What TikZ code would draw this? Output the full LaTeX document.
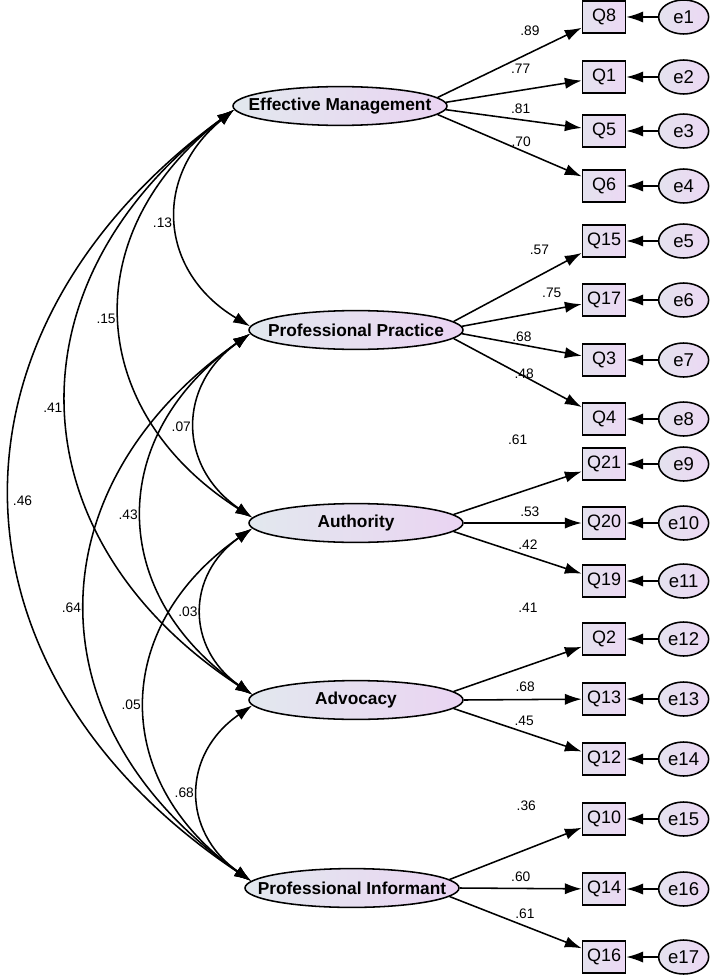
\documentclass[tikz,border=0pt]{standalone}
\usepackage{fontspec}
\setmainfont{Liberation Sans}
\usetikzlibrary{arrows.meta,shapes.geometric,positioning}
\definecolor{latleft}{RGB}{226,232,238}
\definecolor{latright}{RGB}{234,212,242}
\definecolor{boxleft}{RGB}{228,226,238}
\definecolor{boxright}{RGB}{236,216,244}

\begin{document}
\begin{tikzpicture}[>={Latex[length=12pt,width=8pt]}, line width=1.1pt,
  latent/.style={ellipse, draw, minimum width=5.35cm, minimum height=0.97cm, inner xsep=-20pt, inner ysep=0pt,
    left color=latleft, right color=latright, font=\bfseries\fontsize{12.3}{14}\selectfont},
  obsbox/.style={rectangle, draw, minimum width=1.075cm, minimum height=0.8cm, inner sep=0pt,
    left color=boxleft, right color=boxright, font=\fontsize{12.8}{14}\selectfont},
  errterm/.style={ellipse, draw, minimum width=1.25cm, minimum height=0.85cm, inner sep=0pt,
    left color=boxleft, right color=boxright, font=\fontsize{13.2}{14}\selectfont},
  coef/.style={font=\fontsize{9.8}{11}\selectfont, inner sep=1pt},
  covarc/.style={bend right=55, looseness=1.25}]
\useasboundingbox (0,0) rectangle (17.725,-24.425);

% latent factors
\node[latent] (em) at (8.50,-2.65)   {Effective Management};
\node[latent] (pp) at (8.90,-8.25)   {Professional Practice};
\node[latent] (au) at (8.90,-13.075) {Authority};
\node[latent] (ad) at (8.90,-17.50)  {Advocacy};
\node[latent] (pi) at (8.80,-22.20)  {Professional Informant};

% items
\node[obsbox] (q8)  at (15.1,-0.425)  {Q8};
\node[obsbox] (q1)  at (15.1,-1.925)  {Q1};
\node[obsbox] (q5)  at (15.1,-3.275)  {Q5};
\node[obsbox] (q6)  at (15.1,-4.65)   {Q6};
\node[obsbox] (q15) at (15.1,-6.025)  {Q15};
\node[obsbox] (q17) at (15.1,-7.50)   {Q17};
\node[obsbox] (q3)  at (15.1,-9.00)   {Q3};
\node[obsbox] (q4)  at (15.1,-10.475) {Q4};
\node[obsbox] (q21) at (15.1,-11.60)  {Q21};
\node[obsbox] (q20) at (15.1,-13.075) {Q20};
\node[obsbox] (q19) at (15.1,-14.525) {Q19};
\node[obsbox] (q2)  at (15.1,-15.975) {Q2};
\node[obsbox] (q13) at (15.1,-17.475) {Q13};
\node[obsbox] (q12) at (15.1,-18.975) {Q12};
\node[obsbox] (q10) at (15.1,-20.475) {Q10};
\node[obsbox] (q14) at (15.1,-22.225) {Q14};
\node[obsbox] (q16) at (15.1,-23.925) {Q16};

% error terms
\node[errterm, right=0.79cm of q8]  (e1)  {e1};
\node[errterm, right=0.79cm of q1]  (e2)  {e2};
\node[errterm, right=0.79cm of q5]  (e3)  {e3};
\node[errterm, right=0.79cm of q6]  (e4)  {e4};
\node[errterm, right=0.79cm of q15] (e5)  {e5};
\node[errterm, right=0.79cm of q17] (e6)  {e6};
\node[errterm, right=0.79cm of q3]  (e7)  {e7};
\node[errterm, right=0.79cm of q4]  (e8)  {e8};
\node[errterm, right=0.79cm of q21] (e9)  {e9};
\node[errterm, right=0.79cm of q20] (e10) {e10};
\node[errterm, right=0.79cm of q19] (e11) {e11};
\node[errterm, right=0.79cm of q2]  (e12) {e12};
\node[errterm, right=0.79cm of q13] (e13) {e13};
\node[errterm, right=0.79cm of q12] (e14) {e14};
\node[errterm, right=0.79cm of q10] (e15) {e15};
\node[errterm, right=0.79cm of q14] (e16) {e16};
\node[errterm, right=0.79cm of q16] (e17) {e17};

\foreach \e/\q in {e1/q8,e2/q1,e3/q5,e4/q6,e5/q15,e6/q17,e7/q3,e8/q4,e9/q21,e10/q20,
  e11/q19,e12/q2,e13/q13,e14/q12,e15/q10,e16/q14,e17/q16}
  \draw[->] (\e) -- (\q);

% loadings
\draw[->] (em.5)   -- node[coef, pos=.64, yshift=16pt]  {.89} (q8);
\draw[->] (em.2)   -- node[coef, pos=.55, yshift=15pt]  {.77} (q1);
\draw[->] (em.358) -- node[coef, pos=.55, yshift=8pt]   {.81} (q5);
\draw[->] (em.355) -- node[coef, pos=.58, yshift=6pt]   {.70} (q6);
\draw[->] (pp.5)   -- node[coef, pos=.67, yshift=18pt]  {.57} (q15);
\draw[->] (pp.2)   -- node[coef, pos=.75, yshift=12pt]  {.75} (q17);
\draw[->] (pp.358) -- node[coef, pos=.50, yshift=6pt]   {.68} (q3);
\draw[->] (pp.355) -- node[coef, pos=.55, yshift=2pt]   {.48} (q4);
\draw[->] (au.5)   -- node[coef, pos=.50, yshift=38pt]  {.61} (q21);
\draw[->] (au.0)   -- node[coef, pos=.56, yshift=8pt]   {.53} (q20);
\draw[->] (au.355) -- node[coef, pos=.58, yshift=8pt]   {.42} (q19);
\draw[->] (ad.5)   -- node[coef, pos=.58, yshift=41pt]  {.41} (q2);
\draw[->] (ad.0)   -- node[coef, pos=.52, yshift=9pt]   {.68} (q13);
\draw[->] (ad.355) -- node[coef, pos=.55, yshift=8pt]   {.45} (q12);
\draw[->] (pi.5)   -- node[coef, pos=.58, yshift=31pt]  {.36} (q10);
\draw[->] (pi.0)   -- node[coef, pos=.50, yshift=8pt]   {.60} (q14);
\draw[->] (pi.355) -- node[coef, pos=.57, yshift=9pt]   {.61} (q16);

% correlations between factors
\draw[<->] (em.182) to[covarc] node[coef, left=2pt]  {.13} (pp.178);
\draw[<->] (em.182) to[covarc] node[coef, left=2pt]  {.15} (au.177);
\draw[<->] (em.182) to[covarc] node[coef, left=2pt]  {.41} (ad.177);
\draw[<->] (em.182) to[covarc] node[coef, right=0pt] {.46} (pi.176);
\draw[<->] (pp.182) to[covarc] node[coef, left=2pt]  {.07} (au.177);
\draw[<->] (pp.182) to[covarc] node[coef, left=2pt]  {.43} (ad.177);
\draw[<->] (pp.182) to[covarc] node[coef, left=2pt]  {.64} (pi.176);
\draw[<->] (au.183) to[covarc] node[coef, left=2pt]  {.03} (ad.177);
\draw[<->] (au.183) to[covarc] node[coef, left=2pt]  {.05} (pi.176);
\draw[<->] (ad.183) to[covarc] node[coef, left=2pt]  {.68} (pi.176);
\end{tikzpicture}
\end{document}
